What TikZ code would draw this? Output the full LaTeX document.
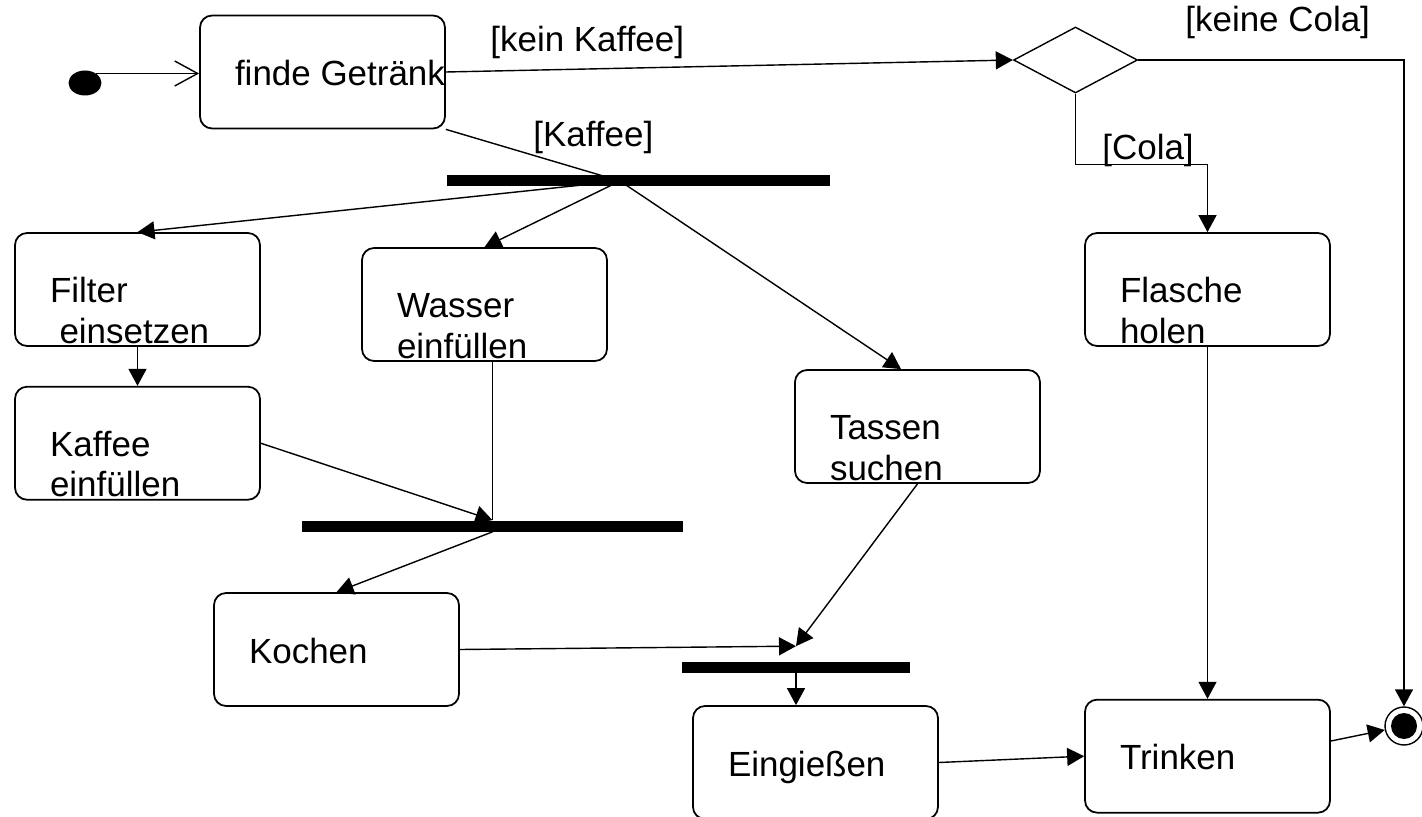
\documentclass[tikz,border=0pt]{standalone}
\usepackage{fontspec}
\setmainfont{Liberation Sans}
\usetikzlibrary{arrows.meta,positioning,shapes.geometric}
\newcommand{\diafont}{\fontsize{19.9}{22.8}\selectfont}
\tikzset{
    %Define standard arrow tip
    >={Triangle[length=0.34cm,width=0.36cm]},
    %Define style for activities
    activity/.style={
      rectangle,
      rounded corners=0.24cm,
      draw=black, line width=1pt,
      text width=3.5cm,
      align=left,
      inner xsep=0.7cm, inner ysep=0pt,
      text height=1.4cm, text depth=0.86cm,
      font=\diafont},
    %Define style for fork and join bars
    bar/.style={
      rectangle,
      fill=black,
      inner sep=0pt,
      minimum height=0.22cm},
    %Define style for the decision
    decision/.style={
      diamond,
      draw=black, line width=0.8pt,
      inner sep=0pt,
      minimum width=2.48cm,
      minimum height=1.32cm},
    %Define start and end states
    start/.style={
      ellipse,
      fill=black,
      inner sep=0pt,
      minimum width=0.66cm,
      minimum height=0.5cm},
    final/.style={
      circle,
      draw=black, line width=0.8pt,
      inner sep=0pt,
      minimum size=0.76cm,
      path picture={\fill[black] (path picture bounding box.center) circle (0.26cm);}},
    %Define style for guards
    guard/.style={
      font=\diafont,
      inner sep=0pt,
      anchor=base west},
    % Define arrow styles
    arr/.style={
      ->,
      line width=0.8pt},
    openarr/.style={
      -{Straight Barb[length=0.46cm,width=0.5cm]},
      line width=0.8pt},
    plain/.style={
      line width=0.8pt}
}

\begin{document}
\begin{tikzpicture}[x=0.02cm, y=-0.02cm]
    \useasboundingbox (0,0) rectangle (1422,817);
    \clip (0,0) rectangle (1422,817);

    \node[start] (init) at (85,83) {};
    \node[activity] (finde) at (322.5,72) {\mbox{\spaceskip=0pt finde Getränk}};
    \node[decision] (dec) at (1075.5,60) {};

    \node[bar, minimum width=7.66cm] (fork) at (638.5,181) {};
    \node[activity] (filter) at (137.5,289.5) {Filter\\\hspace*{0.19cm}einsetzen};
    \node[activity] (wasser) at (484.5,304.5) {Wasser\\einfüllen};
    \node[activity] (tassen) at (917.5,426.5) {Tassen\\suchen};
    \node[activity] (flasche) at (1207.5,289.5) {Flasche\\holen};
    \node[activity, below=0.78cm of filter] (kaffee) {Kaffee\\einfüllen}
    edge[arr, <-] (filter);

    \node[bar, minimum width=7.62cm] (join1) at (492.5,526) {};
    \node[activity] (kochen) at (336.5,649.5) {Kochen};
    \node[bar, minimum width=4.56cm] (join2) at (796,667) {};
    \node[activity] (eingiessen) at (815.5,762.5) {Eingießen};
    \node[activity, below=7.04cm of flasche] (trinken) {Trinken};
    \node[final] (final) at (1404,726) {};

    % start and decision
    \draw[openarr] (init.40) -- (init.40 -| finde.west);
    \draw[arr] (finde.east) -- (dec.west);
    \node[guard] (gkein) at (490,52) {[kein Kaffee]};
    \draw[arr] (dec.east) -| (final.north);
    \node[guard] (gkeine) at (1185,32) {[keine Cola]};
    \draw[arr] (dec.south) -- ++(0,71) -| (flasche.north);
    \node[guard] (gcola) at (1102,160) {[Cola]};

    % coffee branch
    \coordinate (fk) at ([xshift=-0.37cm]fork.center);
    \draw[plain] (finde.south east) -- (fk);
    \node[guard] (gkaffee) at (533,147) {[Kaffee]};
    \draw[arr] (fk) -- (filter.north);
    \draw[arr] (fk) -- (wasser.north);
    \draw[arr] (fk) -- (tassen.106);
    \draw[arr] (kaffee.east) -- (join1.north);
    \draw[plain] (wasser.south -| join1.north) -- (join1.north);
    \draw[arr] (join1.south) -- (kochen.north);

    \coordinate (meet) at ([yshift=0.3cm]join2.north);
    \draw[arr] (kochen.east) -- (meet);
    \draw[arr] (tassen.south) -- (meet);
    \draw[arr] (join2.south) -- (join2.south |- eingiessen.north);

    % drinking
    \draw[arr] (eingiessen.east) -- (trinken.west);
    \draw[arr] (flasche.south) -- (trinken.north);
    \draw[arr] (trinken.7) -- (final);
\end{tikzpicture}
\end{document}
